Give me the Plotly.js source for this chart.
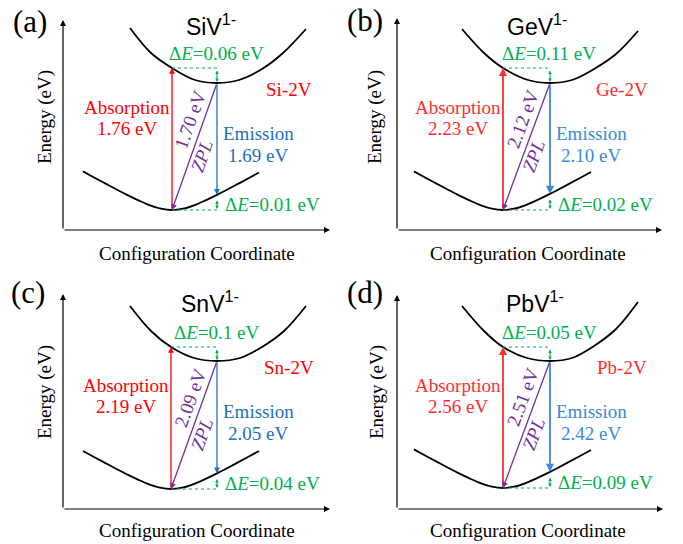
<!DOCTYPE html>
<html><head><meta charset="utf-8">
<script src="https://cdn.plot.ly/plotly-3.0.1.min.js"></script>
<style>html,body{margin:0;padding:0;background:#fff}</style>
</head><body><div id="chart" style="width:683px;height:544px"></div>
<script>
// ---- data (labels / values) ----
const panelLetters = ['(a)', '(b)', '(c)', '(d)'];
const defectNames = ['SiV', 'GeV', 'SnV', 'PbV'];
const chargeState = '1-';
const complexNames = ['Si-2V', 'Ge-2V', 'Sn-2V', 'Pb-2V'];
const absorptionEV = ['1.76', '2.23', '2.19', '2.56'];
const emissionEV = ['1.69', '2.10', '2.05', '2.42'];
const zplEV = ['1.70', '2.12', '2.09', '2.51'];
const deltaUpperEV = ['0.06', '0.11', '0.1', '0.05'];
const deltaLowerEV = ['0.01', '0.02', '0.04', '0.09'];

// schematic configuration-coordinate curves
// (panel-local units, vertical axis pointing down as drawn)
const upperX = [
  [130, 151, 172, 195, 217, 239, 262, 283, 306],
  [122, 144, 163, 188, 210, 232, 254, 276, 298],
  [130, 151, 171, 194, 217, 240, 262, 284, 306],
  [122, 144, 163, 187, 210, 232, 254, 276, 298]
];
const upperY = [
  [28, 53, 68, 80, 83, 80, 69, 53, 29],
  [29, 53, 68, 80, 83, 80, 69, 54, 31],
  [34, 59, 75, 86, 89, 86, 75, 59, 34],
  [34, 59, 75, 86, 89, 86, 74, 57, 30]
];
const lowerX = [
  [83, 95, 106, 117, 127, 139, 150, 161, 172, 183, 194, 205, 217, 227, 238, 249, 259],
  [74, 86, 97, 108, 118, 130, 141, 152, 163, 174, 185, 196, 210, 218, 229, 240, 251],
  [83, 94, 105, 116, 126, 138, 149, 160, 171, 182, 193, 204, 217, 226, 237, 248, 259],
  [74, 86, 97, 108, 118, 130, 141, 152, 163, 174, 185, 196, 210, 218, 229, 240, 251]
];
const lowerY = [
  [171.4, 178, 183.9, 189.7, 194.9, 200.6, 205.3, 208.7, 210, 208.7, 205.3, 200.6, 194.9, 189.7, 183.9, 178, 172.5],
  [171.4, 178, 183.9, 189.7, 194.9, 200.6, 205.3, 208.7, 210, 208.7, 205.3, 200.6, 193.9, 189.7, 183.9, 178, 172],
  [179, 185, 190.9, 196.7, 201.9, 207.6, 212.3, 215.7, 217, 215.7, 212.3, 207.6, 201.4, 196.7, 190.9, 185, 179],
  [177.4, 184, 189.9, 195.7, 200.9, 206.6, 211.3, 214.7, 216, 214.7, 211.3, 206.6, 199.9, 195.7, 189.9, 184, 178]
];

// ---- layout of the four panels ----
const W = 683, H = 544;
const panels = [
  {ox: 0,   oy: 0,   w: 340, h: 272, axX: 63, axY: 230, axTop: 20, axRight: 330, letter: [30, 21], title: [211, 25], energy: [45, 117], coord: [197, 253], red: '#FF0000', blue: '#1F6FC0', aw: 1.3},
  {ox: 340, oy: 0,   w: 343, h: 272, axX: 57, axY: 230, axTop: 18, axRight: 322, letter: [25, 20], title: [197, 25], energy: [35, 117], coord: [188, 253], red: '#FF2E2E', blue: '#3A8BD6', aw: 1.8},
  {ox: 0,   oy: 272, w: 340, h: 272, axX: 63, axY: 237, axTop: 22, axRight: 330, letter: [28, 20], title: [210, 30], energy: [45, 120], coord: [197, 258], red: '#FF0000', blue: '#1F6FC0', aw: 1.3},
  {ox: 340, oy: 272, w: 343, h: 272, axX: 57, axY: 237, axTop: 23, axRight: 323, letter: [25, 20], title: [195, 30], energy: [37, 120], coord: [188, 258], red: '#FF2E2E', blue: '#3A8BD6', aw: 1.8}
];
const serif = 'Liberation Serif, Times New Roman, serif';
const sans = 'Liberation Sans, Arial, sans-serif';
const green = '#00B050';
const purple = '#7030A0';
const FS = 19;
const VX = 8;   // index of the lower-curve minimum
const EM = 12;  // index of the lower-curve point below the upper minimum

const traces = [];
const annotations = [];
const shapes = [];
const layout = {
  width: W, height: H,
  margin: {l: 0, r: 0, t: 0, b: 0},
  paper_bgcolor: '#fff', plot_bgcolor: '#fff',
  showlegend: false,
  annotations: annotations, shapes: shapes
};

panels.forEach((p, i) => {
  const n = i === 0 ? '' : String(i + 1);
  const xr = 'x' + n, yr = 'y' + n;
  layout['xaxis' + n] = {domain: [p.ox / W, (p.ox + p.w) / W], range: [0, p.w], visible: false, fixedrange: true, anchor: yr};
  layout['yaxis' + n] = {domain: [1 - (p.oy + p.h) / H, 1 - p.oy / H], range: [p.h, 0], visible: false, fixedrange: true, anchor: xr};

  // curves
  [[upperX[i], upperY[i]], [lowerX[i], lowerY[i]]].forEach(c => {
    traces.push({type: 'scatter', mode: 'lines', x: c[0], y: c[1], xaxis: xr, yaxis: yr,
      line: {color: '#000', width: 1.8, shape: 'spline', smoothing: 1}, hoverinfo: 'skip'});
  });

  const arrow = (hx, hy, tx, ty, color, width, extra) => Object.assign({
    xref: xr, yref: yr, axref: xr, ayref: yr, x: hx, y: hy, ax: tx, ay: ty,
    text: '', showarrow: true, arrowhead: 2, arrowsize: 0.9, arrowwidth: width, arrowcolor: color
  }, extra || {});
  const label = (x, y, text, color, size, extra) => Object.assign({
    xref: xr, yref: yr, x: x, y: y, text: text, showarrow: false,
    xanchor: 'center', yanchor: 'middle', font: {family: serif, size: size || FS, color: color}
  }, extra || {});

  // axes
  annotations.push(arrow(p.axX, p.axTop, p.axX, p.axY, '#000', 1.2, {arrowsize: 1}));
  annotations.push(arrow(p.axRight, p.axY, p.axX, p.axY, '#000', 1.2, {arrowsize: 1}));

  const absX = lowerX[i][VX], absY0 = lowerY[i][VX], absY1 = upperY[i][2];
  const emX = upperX[i][4], emY0 = upperY[i][4], emY1 = lowerY[i][EM];

  // absorption, emission, ZPL
  annotations.push(arrow(upperX[i][2], absY1, absX, absY0, p.red, p.aw));
  annotations.push(arrow(lowerX[i][EM], emY1, emX, emY0, p.blue, p.aw));
  annotations.push(arrow(absX, absY0, emX, emY0, purple, 1.3));

  // dotted guides + delta-E double arrows
  shapes.push({type: 'line', xref: xr, yref: yr, x0: upperX[i][2], y0: absY1, x1: emX, y1: absY1, line: {color: green, width: 1, dash: 'dot'}});
  shapes.push({type: 'line', xref: xr, yref: yr, x0: absX, y0: absY0, x1: lowerX[i][EM], y1: absY0, line: {color: green, width: 1, dash: 'dot'}});
  const dbl = {arrowside: 'end+start', arrowhead: 2, startarrowhead: 2, arrowsize: 0.65, startarrowsize: 0.65, standoff: 0, startstandoff: 0};
  annotations.push(arrow(emX, emY0 - 1, emX, absY1 + 1, green, 1.1, dbl));
  annotations.push(arrow(lowerX[i][EM], absY0 - 1, lowerX[i][EM], emY1 + 4, green, 1.1, dbl));

  // texts
  annotations.push(label(p.letter[0], p.letter[1], panelLetters[i], '#000', 31));
  annotations.push({xref: xr, yref: yr, x: p.title[0], y: p.title[1], text: defectNames[i] + '<sup>' + chargeState + '</sup>',
    showarrow: false, xanchor: 'center', yanchor: 'middle', font: {family: sans, size: 23, color: '#000'}});
  annotations.push(label(p.energy[0], p.energy[1], 'Energy (eV)', '#000', FS, {textangle: -90}));
  annotations.push(label(p.coord[0], p.coord[1], 'Configuration Coordinate', '#000', FS));

  annotations.push(label(emX - 1, absY1 - 15, '\u0394<i>E</i>=' + deltaUpperEV[i] + ' eV', green));
  annotations.push(label(emX + 55, absY0 - 6, '\u0394<i>E</i>=' + deltaLowerEV[i] + ' eV', green));
  annotations.push(label(emX + 72, emY0 + 6, complexNames[i], p.red));
  annotations.push(label(absX - 45, emY0 + 24, 'Absorption', p.red));
  annotations.push(label(absX - 45, emY0 + 45, absorptionEV[i] + ' eV', p.red));
  annotations.push(label(emX + 41, emY0 + 50, 'Emission', p.blue));
  annotations.push(label(emX + 41, emY0 + 72, emissionEV[i] + ' eV', p.blue));

  // ZPL labels along the purple arrow
  const dx = emX - absX, dy = emY0 - absY0, L = Math.hypot(dx, dy);
  const ux = dx / L, uy = dy / L, nx = uy, ny = -ux;
  const mx = (emX + absX) / 2, my = (emY0 + absY0) / 2;
  const ang = Math.atan2(dy, dx) * 180 / Math.PI;
  annotations.push(label(mx + 24 * ux + 13 * nx, my + 24 * uy + 13 * ny, zplEV[i] + ' eV', purple, FS, {textangle: ang}));
  annotations.push(label(mx - 6 * ux - 10 * nx, my - 6 * uy - 10 * ny, '<i>ZPL</i>', purple, FS, {textangle: ang}));
});

Plotly.newPlot('chart', traces, layout, {displayModeBar: false, staticPlot: true});
</script>
</body></html>
